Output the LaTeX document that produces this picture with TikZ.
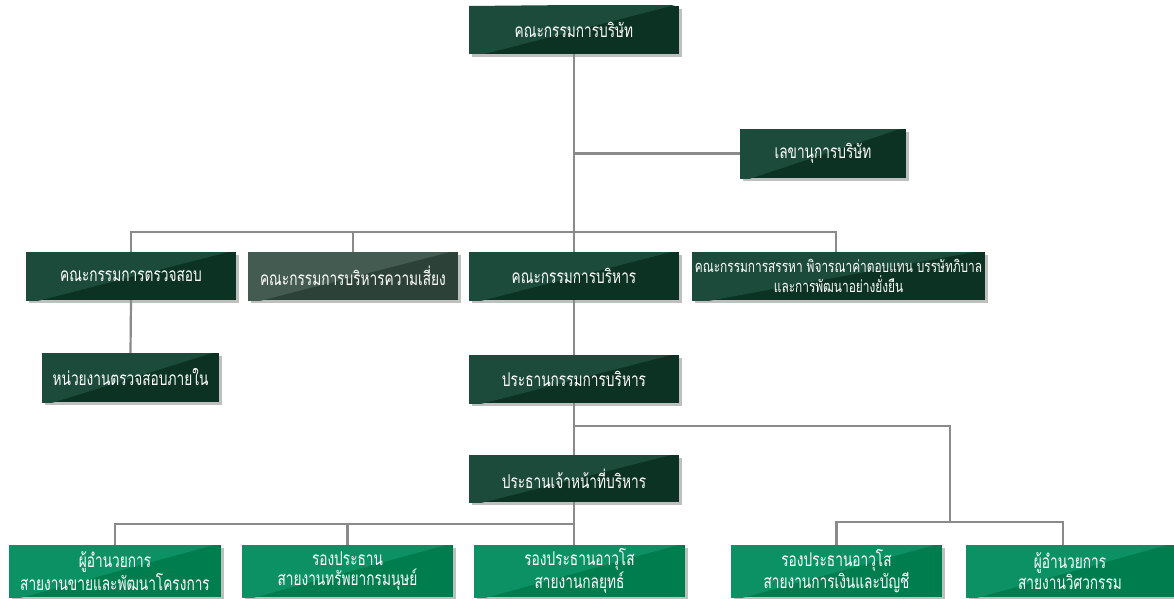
\documentclass[tikz,border=0pt]{standalone}
\usepackage{fontspec}
\newfontfamily\thaifont[Script=Thai,FakeStretch=0.72]{Loma}
\usetikzlibrary{shadows}
\definecolor{dgL}{HTML}{1C4A3B}
\definecolor{dgD}{HTML}{0C3224}
\definecolor{rkL}{HTML}{435B50}
\definecolor{rkD}{HTML}{2C4238}
\definecolor{grL}{HTML}{0B9163}
\definecolor{grD}{HTML}{007D4F}
\definecolor{lineC}{HTML}{8A8A8A}
\tikzset{
  orgbox/.style n args={4}{rectangle, inner sep=0pt, minimum width=#1, minimum height=#2,
    fill=#4, text=white, align=center, font=\thaifont\fontsize{19}{20.5}\selectfont,
    drop shadow={shadow xshift=2.5pt, shadow yshift=-3pt, opacity=.45, fill=black!55},
    path picture={\fill[#3] (path picture bounding box.north west) -- ([yshift=2pt]path picture bounding box.north east) -- ([yshift=-4pt]path picture bounding box.south west) -- cycle;}},
  darkbox/.style 2 args={orgbox={#1}{#2}{dgL}{dgD}},
  riskbox/.style 2 args={orgbox={#1}{#2}{rkL}{rkD}},
  greenbox/.style 2 args={orgbox={#1}{#2}{grL}{grD}},
  smalltext/.style={font=\thaifont\fontsize{16.5}{20.5}\selectfont},
  conn/.style={draw=lineC, line width=2.2pt},
}
\begin{document}
\begin{tikzpicture}[x=1pt,y=-1pt]
\useasboundingbox (0,0) rectangle (1174,599);
\fill[white] (0,0) rectangle (1174,599);
\coordinate (hbar) at (0,232);
\coordinate (hmid) at (0,426);
\coordinate (hlow) at (0,524);
\coordinate (rb) at (950,522);
\node[darkbox={210pt}{48pt}] (board) at (574,30) {คณะกรรมการบริษัท};
\node[darkbox={166pt}{49pt}] (sec) at (823,153.5) {เลขานุการบริษัท};
\node[darkbox={210pt}{48pt}] (audit) at (131,276) {คณะกรรมการตรวจสอบ};
\node[riskbox={210pt}{48pt}] (risk) at (353,276) {คณะกรรมการบริหารความเสี่ยง};
\node[darkbox={210pt}{48pt}] (exec) at (574,276) {คณะกรรมการบริหาร};
\node[darkbox={293pt}{48pt}, smalltext] (nom) at (838.5,276) {คณะกรรมการสรรหา พิจารณาค่าตอบแทน บรรษัทภิบาล\\และการพัฒนาอย่างยั่งยืน};
\node[darkbox={177pt}{49pt}] (ia) at (130.5,377.5) {หน่วยงานตรวจสอบภายใน};
\node[darkbox={210pt}{48pt}] (chair) at (574,379) {ประธานกรรมการบริหาร};
\node[darkbox={210pt}{47pt}] (ceo) at (574,478.5) {ประธานเจ้าหน้าที่บริหาร};
\node[greenbox={212pt}{52pt}] (b1) at (115,571) {ผู้อำนวยการ\\สายงานขายและพัฒนาโครงการ};
\node[greenbox={211pt}{52pt}] (b2) at (347.5,571) {รองประธาน\\สายงานทรัพยากรมนุษย์};
\node[greenbox={211pt}{52pt}] (b3) at (579.5,571) {รองประธานอาวุโส\\สายงานกลยุทธ์};
\node[greenbox={211pt}{52pt}] (b4) at (836.5,571) {รองประธานอาวุโส\\สายงานการเงินและบัญชี};
\node[greenbox={208pt}{52pt}] (b5) at (1070,571) {ผู้อำนวยการ\\สายงานวิศวกรรม};
\draw[conn] (board.south) -- (exec.north);
\draw[conn] (board.south |- sec.west) -- (sec.west);
\draw[conn] (audit.north) -- (audit.north |- hbar) -| ([xshift=-2.5pt]nom.north);
\draw[conn] (risk.north) -- (risk.north |- hbar);
\draw[conn] (audit.south) -- (ia.north);
\draw[conn] (exec.south) -- (chair.north);
\draw[conn] (chair.south) -- (ceo.north);
\draw[conn] (chair.south |- hmid) -| (rb);
\draw[conn] (b4.north) |- (rb) -| ([xshift=-7pt]b5.north);
\draw[conn] (ceo.south) -- ([xshift=-5.5pt]b3.north);
\draw[conn] (b1.north) |- (ceo.south |- hlow);
\draw[conn] (b2.north) -- (b2.north |- hlow);
\end{tikzpicture}
\end{document}
